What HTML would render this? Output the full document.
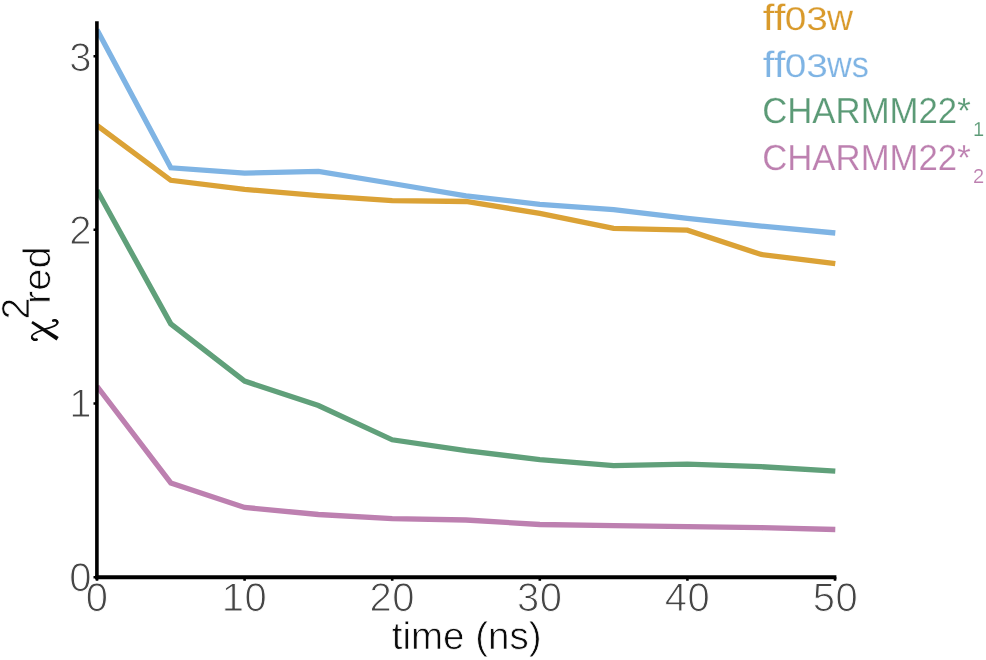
<!DOCTYPE html>
<html>
<head>
<meta charset="utf-8">
<title>chi2 red vs time</title>
<style>
html,body{margin:0;padding:0;background:#fff;}
body{width:986px;height:660px;overflow:hidden;}
svg{display:block;will-change:transform;}
text{font-family:"Liberation Sans",sans-serif;text-rendering:geometricPrecision;-webkit-font-smoothing:antialiased;stroke-linejoin:round;}
.tick{font-size:40px;fill:#454545;stroke:#fff;stroke-width:1px;}
.axl{font-size:38.5px;fill:#0a0a0a;stroke:#fff;stroke-width:0.7px;}
.leg{font-size:35px;stroke:#fff;stroke-width:0.2px;}
.sub{font-size:20px;stroke:#fff;stroke-width:0.15px;}
</style>
</head>
<body>
<svg width="986" height="660" viewBox="0 0 986 660">
<rect x="0" y="0" width="986" height="660" fill="#ffffff"/>

<!-- data lines -->
<defs><clipPath id="plot"><rect x="96.5" y="0" width="760" height="600"/></clipPath></defs>
<g clip-path="url(#plot)" fill="none" stroke-width="5.3" stroke-linejoin="miter" stroke-linecap="butt">
<polyline stroke="#BD80B0" points="97,386.3 170.8,482.9 244.6,507.4 318.4,514.5 392.2,518.6 466,520 539.8,524.5 613.6,525.7 687.4,526.7 761.2,527.7 835.3,529.5"/>
<polyline stroke="#60A07A" points="97,190.2 170.8,323.9 244.6,381.1 318.4,405.5 392.2,439.8 466,450.6 539.8,459.6 613.6,465.6 687.4,464.2 761.2,466.7 835.3,471.1"/>
<polyline stroke="#DBA236" points="97,125.4 170.8,180.3 244.6,189.3 318.4,195.7 392.2,200.7 466,201.5 539.8,213.3 613.6,228.3 687.4,230.2 761.2,254.5 835.3,263.6"/>
<polyline stroke="#7FB4E4" points="97,29.7 170.8,167.8 244.6,173.1 318.4,171.3 392.2,183.5 466,195.8 539.8,204.4 613.6,209.6 687.4,218.4 761.2,226.1 835.3,233"/>
</g>

<!-- axes -->
<g stroke="#000" fill="none">
<path d="M96.9,21.3 V579.2" stroke-width="3.6"/>
<path d="M95,577.2 H836.4" stroke-width="3.9"/>
<!-- ticks -->
<g stroke-width="2.6">
<path d="M93.5,577.2H97 M93.5,403.5H97 M93.5,229.8H97 M93.5,56.2H97"/>
<path d="M97,577V580.8 M244.6,577V580.8 M392.2,577V580.8 M539.8,577V580.8 M687.4,577V580.8 M835,577V580.8"/>
</g>
</g>

<!-- y tick labels -->
<g class="tick" text-anchor="end">
<text x="91.4" y="591.1">0</text>
<text x="91.4" y="417.4">1</text>
<text x="91.4" y="243.7">2</text>
<text x="91.4" y="70.6">3</text>
</g>
<!-- x tick labels -->
<g class="tick" text-anchor="middle" style="letter-spacing:0.5px">
<text x="97" y="611.1">0</text>
<text x="244.6" y="611.1">10</text>
<text x="392.2" y="611.1">20</text>
<text x="539.8" y="611.1">30</text>
<text x="687.4" y="611.1">40</text>
<text x="835.4" y="611.1">50</text>
</g>

<!-- axis titles -->
<text class="axl" x="466.6" y="649.4" text-anchor="middle">time (ns)</text>
<g class="axl">
<text transform="translate(29.4,319.4) rotate(-90)" style="font-size:39px">2</text>
<text transform="translate(49.7,304) rotate(-90)" textLength="57.6" lengthAdjust="spacingAndGlyphs">red</text>
</g>
<!-- chi glyph (Symbol style), drawn directly in page coordinates -->
<g fill="none" stroke="#0a0a0a" stroke-linecap="butt">
<path d="M31.3,323.3 L32.7,321.1 L58.7,337.1 L56.5,340.5 Z" fill="#0a0a0a" stroke="none"/>
<path d="M52.8,320.6 C55.6,319.4 58.6,321.2 57.2,323.8 C55.2,327.2 48,327.8 43.8,329.6 C38.5,331.6 31.8,333.4 31.7,336.8 C31.7,339.4 34.4,340.2 36.9,339.5" stroke-width="1.7" stroke-linecap="round"/>
<path d="M53.2,320.6 C55.4,319.8 57.4,320.6 57.3,322.6 M32.2,337.8 C32.6,339.5 34.6,340.1 36.6,339.5" stroke-width="2.4" stroke-linecap="round"/>
</g>

<!-- legend -->
<g class="leg">
<g fill="#D99A2B" style="font-size:36.5px">
<text x="762.8" y="29.9" textLength="22.6" lengthAdjust="spacingAndGlyphs">ff</text>
<text transform="translate(784.7,29.9) scale(1,0.9)" textLength="43.2" lengthAdjust="spacingAndGlyphs">03</text>
<text x="827" y="29.9" textLength="26" lengthAdjust="spacingAndGlyphs">w</text>
</g>
<g fill="#7FB4E4" style="font-size:36.5px">
<text x="762.8" y="76.6" textLength="22.6" lengthAdjust="spacingAndGlyphs">ff</text>
<text transform="translate(784.7,76.6) scale(1,0.9)" textLength="43.2" lengthAdjust="spacingAndGlyphs">03</text>
<text x="827" y="76.6" textLength="41.8" lengthAdjust="spacingAndGlyphs">ws</text>
</g>
<text x="762.2" y="122.9" fill="#5B9A76" style="font-size:36px" textLength="208.5" lengthAdjust="spacingAndGlyphs">CHARMM22*</text>
<text x="762.2" y="169.5" fill="#BD80B0" style="font-size:36px" textLength="208.5" lengthAdjust="spacingAndGlyphs">CHARMM22*</text>
</g>
<g class="sub">
<text x="973" y="136.2" fill="#5B9A76">1</text>
<text x="973" y="183" fill="#BD80B0">2</text>
</g>
</svg>
</body>
</html>
